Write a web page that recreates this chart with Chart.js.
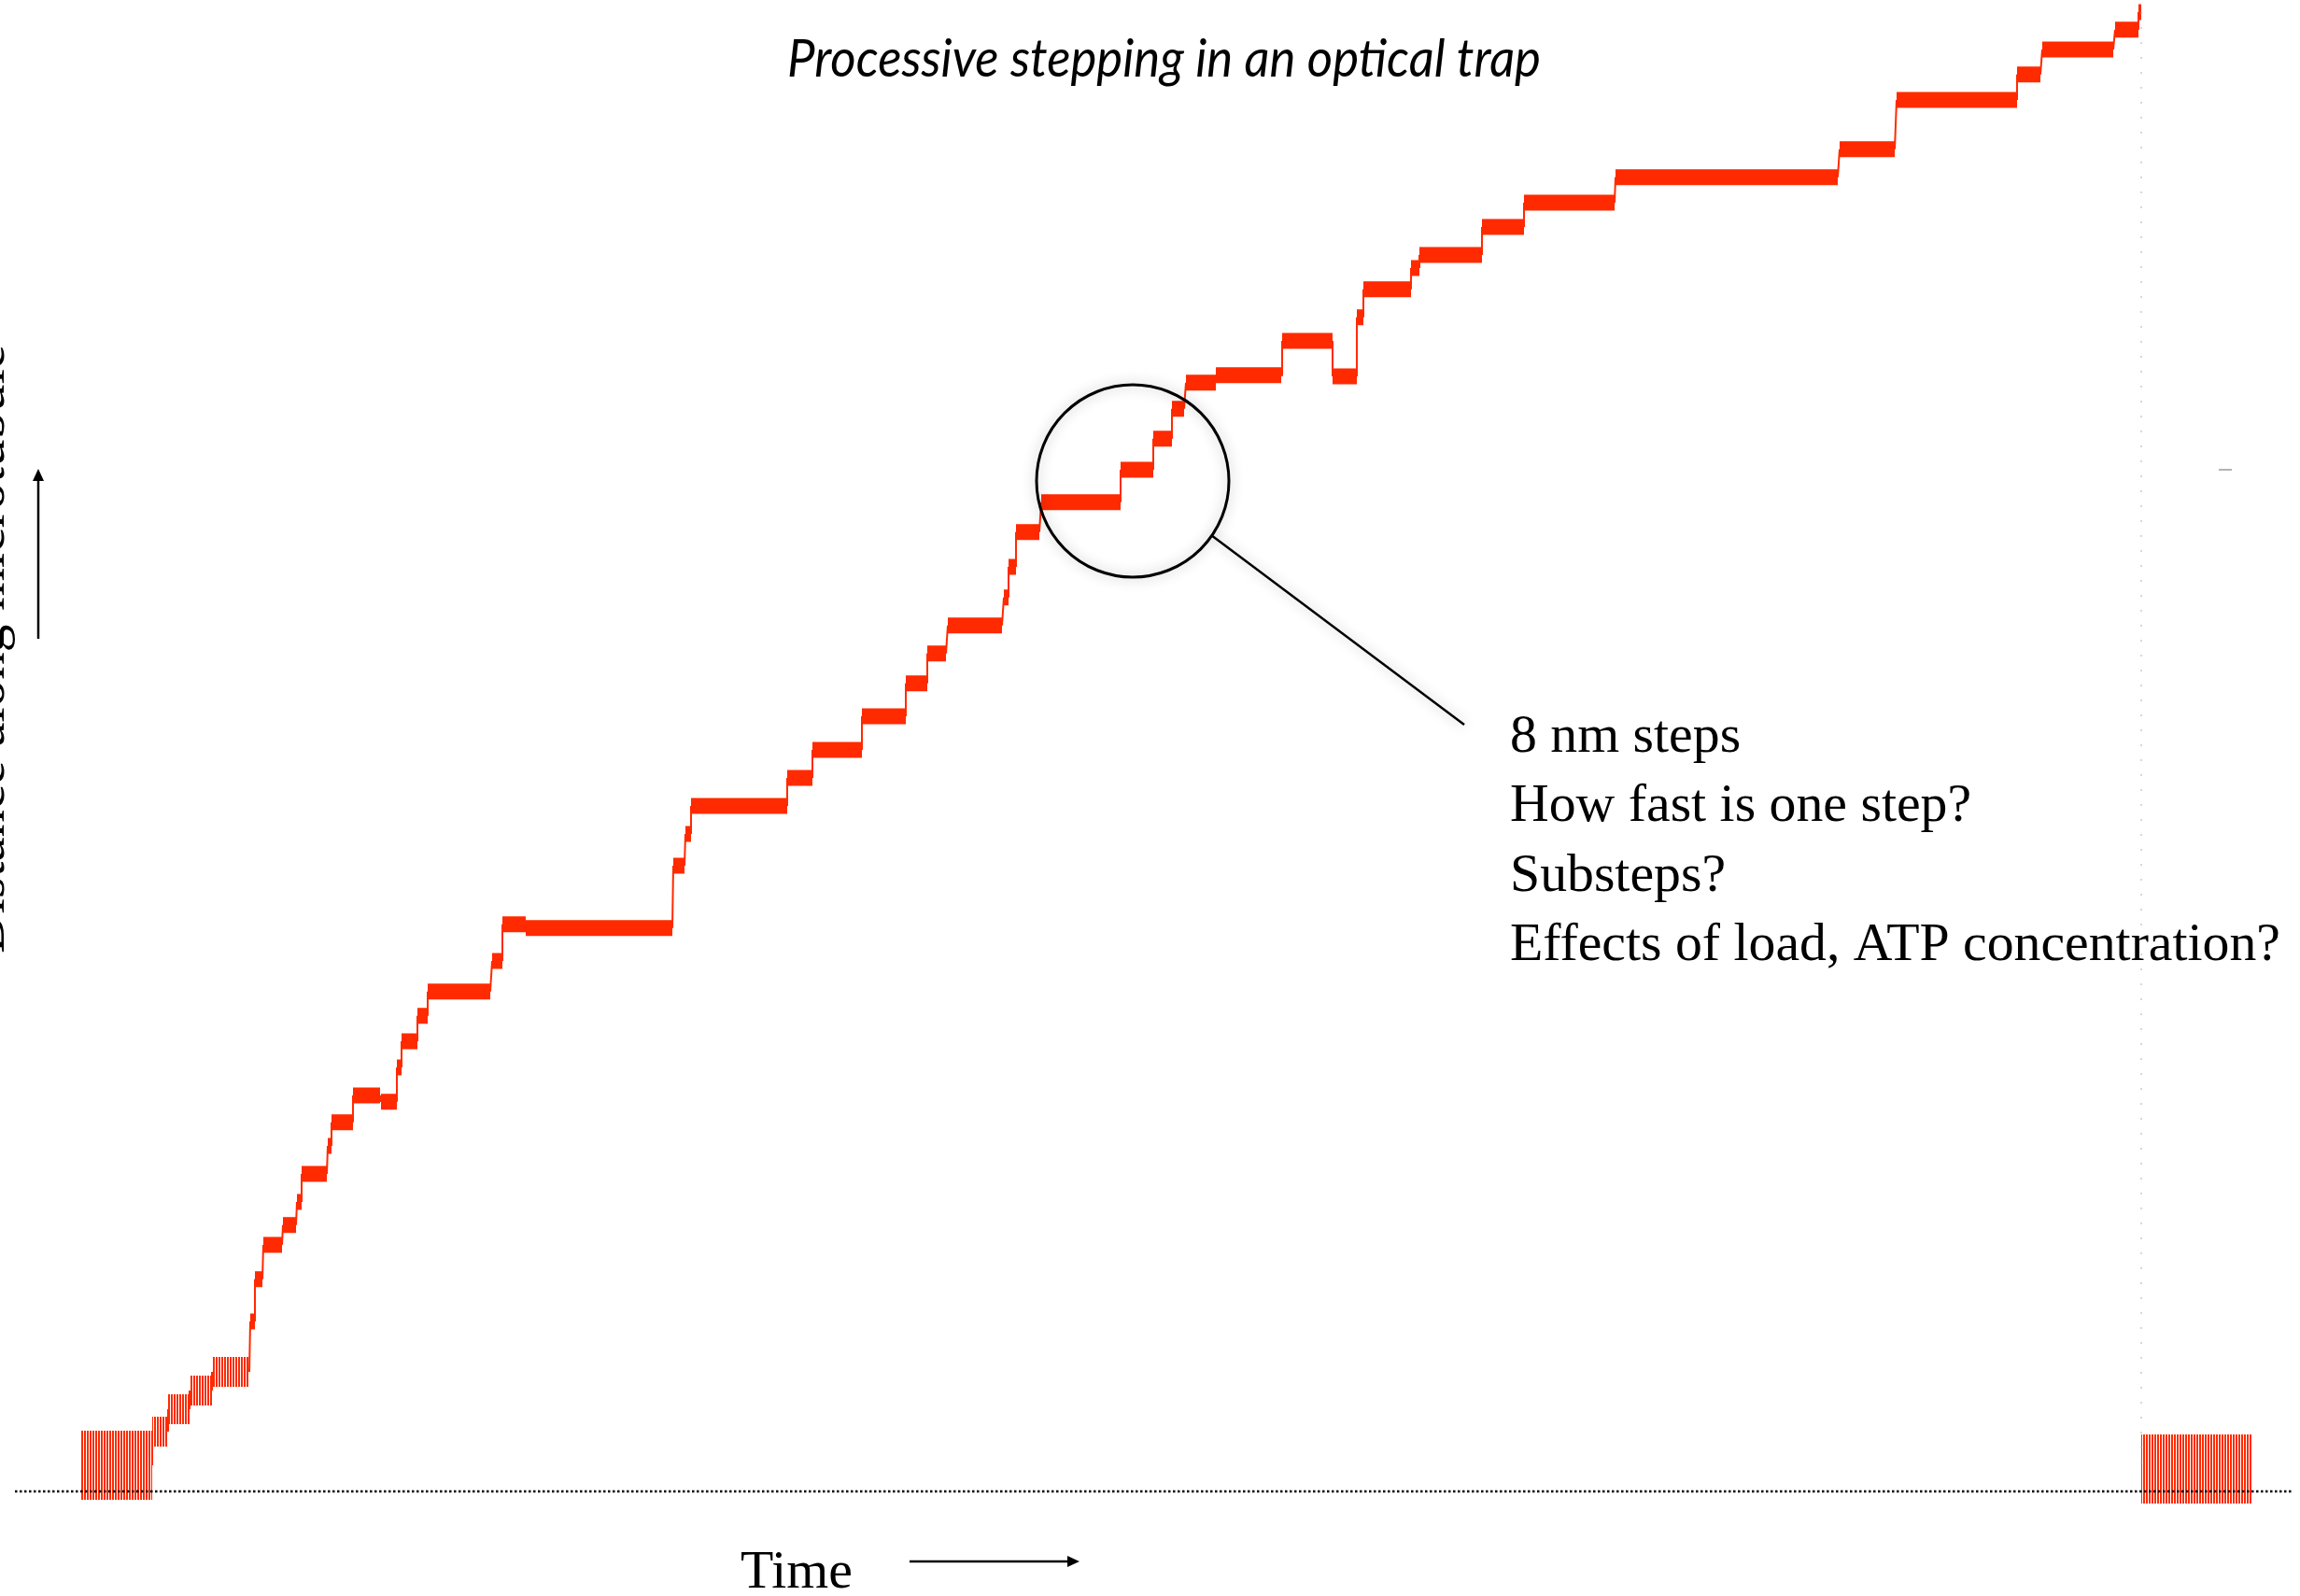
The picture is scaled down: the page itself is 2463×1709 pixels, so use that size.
<!DOCTYPE html>
<html>
<head>
<meta charset="utf-8">
<title>Processive stepping in an optical trap</title>
<script src="https://cdn.jsdelivr.net/npm/chart.js@4.4.1/dist/chart.umd.min.js"></script>
<style>
  html, body { margin: 0; padding: 0; background: #fff; overflow: hidden; }
  canvas { display: block; }
</style>
</head>
<body>
<canvas id="trapCanvas" width="2463" height="1709"></canvas>
<script>
// time in s, bead position in nm (kinesin walks in 8 nm steps)
const noiseStart = [0.01, 22.07];
const noiseEnd = [0.77, 23.25];
const noiseLevel = [7, 6];

// noisy first climb off the baseline
const riseStart = [0.77, 0.94, 1.17, 1.41];
const riseEnd = [0.94, 1.17, 1.41, 1.81];
const riseLevel = [16, 22, 27, 32];

// dwell plateaus between steps
const stepStart = [1.82, 1.87, 1.96, 2.17, 2.32, 2.37, 2.65, 2.69, 2.92, 3.22,
  3.39, 3.44, 3.61, 3.72, 4.41, 4.52, 4.77, 6.35, 6.48, 6.54,
  7.57, 7.84, 8.37, 8.84, 9.07, 9.29, 9.89, 9.94, 10.02, 10.29,
  11.14, 11.49, 11.69, 11.84, 12.16, 12.87, 13.41, 13.67, 13.74, 14.25,
  14.34, 15.01, 15.46, 16.44, 18.84, 19.45, 20.74, 21.01, 21.79, 22.04];
const stepEnd = [1.87, 1.95, 2.16, 2.31, 2.37, 2.64, 2.69, 2.92, 3.21, 3.39,
  3.44, 3.61, 3.72, 4.39, 4.52, 4.77, 6.34, 6.47, 6.54, 7.57,
  7.84, 8.37, 8.84, 9.07, 9.27, 9.87, 9.94, 10.02, 10.27, 11.14,
  11.49, 11.69, 11.82, 12.16, 12.86, 13.41, 13.67, 13.74, 14.25, 14.34,
  15.01, 15.46, 16.43, 18.82, 19.43, 20.74, 20.99, 21.77, 22.04, 22.07];
const stepLevel = [45.5, 56.8, 66, 71.3, 77.5, 85, 92.5, 98.8, 106, 104.3,
  113.5, 120.5, 127.3, 133.8, 142, 151.8, 150.8, 167.5, 176, 183.5,
  191, 198.5, 207.5, 216.3, 224.3, 231.8, 239.3, 247.5, 256.8, 264.8,
  273.5, 281.8, 289.8, 296.8, 298.8, 308, 298.5, 314.3, 321.8, 327.5,
  331, 338.5, 345, 351.8, 359.3, 372.5, 379.3, 386, 391.3, 396];

const baselineTime = [-0.7, 23.68];
const timeRange = [-0.86, 23.77];
const distanceRange = [-28, 399.25];

const traceRed = "#ff2a00";

/**
 * Turns start/end/level lists into flat line pieces split by gaps.
 */
function plateaus(starts, ends, levels) {
  var pts = [];
  starts.forEach(function (s, i) {
    pts.push({ x: s, y: levels[i] });
    pts.push({ x: ends[i], y: levels[i] });
    pts.push({ x: ends[i], y: null });
  });
  return pts;
}

var allStart = [noiseStart[0]].concat(riseStart, stepStart);
var allEnd = [noiseEnd[0]].concat(riseEnd, stepEnd);
var allLevel = [noiseLevel[0]].concat(riseLevel, stepLevel);

/**
 * Thin jumps joining one plateau to the next.
 */
function jumps() {
  var pts = [];
  for (var i = 0; i + 1 < allStart.length; i++) {
    pts.push({ x: allEnd[i], y: allLevel[i] });
    pts.push({ x: allStart[i + 1], y: allLevel[i + 1] });
    pts.push({ x: allStart[i + 1], y: null });
  }
  return pts;
}

var last = stepLevel.length - 1;

// streaky fill for the free-bead noise (2 px red, 1 px white)
function streaks() {
  var c = document.createElement("canvas");
  c.width = 3;
  c.height = 1;
  var g = c.getContext("2d");
  g.fillStyle = traceRed;
  g.fillRect(0, 0, 2, 1);
  return g.createPattern(c, "repeat");
}

/**
 * Draws text squeezed or stretched horizontally by sx.
 */
function fitText(ctx, text, x, y, sx) {
  ctx.save();
  ctx.translate(x, y);
  ctx.scale(sx, 1);
  ctx.fillText(text, 0, 0);
  ctx.restore();
}

function arrowHead(ctx, x, y, dx, dy) {
  // dx, dy: unit direction of the arrow
  var len = 13, half = 6;
  ctx.beginPath();
  ctx.moveTo(x, y);
  ctx.lineTo(x - dx * len - dy * half, y - dy * len + dx * half);
  ctx.lineTo(x - dx * len + dy * half, y - dy * len - dx * half);
  ctx.closePath();
  ctx.fill();
}

const slideText = {
  id: "slideText",
  afterDatasetsDraw(chart) {
    var ctx = chart.ctx;
    var xs = chart.scales.x, ys = chart.scales.y;
    ctx.save();
    ctx.fillStyle = "#000";
    ctx.strokeStyle = "#000";
    ctx.textBaseline = "alphabetic";

    // title
    ctx.font = "italic 56px Lato";
    var title = "Processive stepping in an optical trap";
    fitText(ctx, title, 843, 82, 807 / ctx.measureText(title).width);

    // notes next to the zoom circle
    ctx.font = "58px 'Liberation Serif'";
    var notes = ["8 nm steps", "How fast is one step?", "Substeps?",
      "Effects of load, ATP concentration?"];
    var sx = 825 / ctx.measureText(notes[3]).width;
    notes.forEach(function (line, i) {
      fitText(ctx, line, 1617, 805 + i * 74.3, sx);
    });

    // axis captions
    ctx.font = "56px 'Liberation Serif'";
    fitText(ctx, "Time", 793, 1700, 120 / ctx.measureText("Time").width);

    ctx.font = "58px 'Liberation Serif'";
    var ylab = "Distance along microtubule";
    ctx.save();
    ctx.translate(4, 1021);
    ctx.rotate(-Math.PI / 2);
    fitText(ctx, ylab, 0, 0, 652 / ctx.measureText(ylab).width);
    ctx.restore();

    // arrows
    ctx.lineWidth = 2.5;
    ctx.beginPath();
    ctx.moveTo(41, 684);
    ctx.lineTo(41, 512);
    ctx.stroke();
    arrowHead(ctx, 41, 502, 0, -1);
    ctx.beginPath();
    ctx.moveTo(974, 1672);
    ctx.lineTo(1146, 1672);
    ctx.stroke();
    arrowHead(ctx, 1156, 1672, 1, 0);

    // zoom circle around a few steps, with pointer
    var cx = xs.getPixelForValue(11.27), cy = ys.getPixelForValue(270.5);
    ctx.save();
    ctx.shadowColor = "rgba(0,0,0,0.3)";
    ctx.shadowBlur = 14;
    ctx.lineWidth = 3;
    ctx.beginPath();
    ctx.arc(cx, cy, 103, 0, Math.PI * 2);
    ctx.stroke();
    ctx.lineWidth = 2.5;
    ctx.beginPath();
    ctx.moveTo(1297, 573);
    ctx.lineTo(1568, 776);
    ctx.stroke();
    ctx.restore();

    // stray mark at the right edge
    ctx.strokeStyle = "#9a9a9a";
    ctx.lineWidth = 1.5;
    ctx.beginPath();
    ctx.moveTo(2376, 503);
    ctx.lineTo(2390, 503);
    ctx.stroke();
    ctx.restore();
  }
};

var ctx = document.getElementById("trapCanvas").getContext("2d");
new Chart(ctx, {
  type: "line",
  data: {
    datasets: [
      {
        label: "baseline",
        data: baselineTime.map(function (t) { return { x: t, y: 0 }; }),
        borderColor: "#000",
        borderWidth: 2.5,
        borderDash: [2.5, 2.5],
        order: 0
      },
      {
        label: "jumps",
        data: jumps(),
        borderColor: traceRed,
        borderWidth: 2,
        order: 1
      },
      {
        label: "retraction",
        data: [
          { x: stepEnd[last], y: stepLevel[last] },
          { x: noiseStart[1], y: noiseLevel[1] }
        ],
        borderColor: "rgba(170,170,170,0.6)",
        borderWidth: 1.5,
        borderDash: [2, 14],
        order: 1
      },
      {
        label: "dwells",
        data: plateaus(stepStart, stepEnd, stepLevel),
        borderColor: traceRed,
        borderWidth: 17,
        borderCapStyle: "butt",
        order: 2
      },
      {
        label: "first climb",
        data: plateaus(riseStart, riseEnd, riseLevel),
        borderColor: streaks(),
        borderWidth: 32,
        borderCapStyle: "butt",
        order: 3
      },
      {
        label: "free bead",
        data: plateaus(noiseStart, noiseEnd, noiseLevel),
        borderColor: streaks(),
        borderWidth: 74,
        borderCapStyle: "butt",
        order: 3
      }
    ]
  },
  options: {
    responsive: false,
    devicePixelRatio: 1,
    animation: false,
    spanGaps: false,
    layout: { padding: 0 },
    elements: { point: { radius: 0 }, line: { tension: 0 } },
    plugins: {
      legend: { display: false },
      tooltip: { enabled: false },
      title: { display: false }
    },
    scales: {
      x: { type: "linear", min: timeRange[0], max: timeRange[1], display: false },
      y: { type: "linear", min: distanceRange[0], max: distanceRange[1], display: false }
    }
  },
  plugins: [slideText]
});
</script>
</body>
</html>
